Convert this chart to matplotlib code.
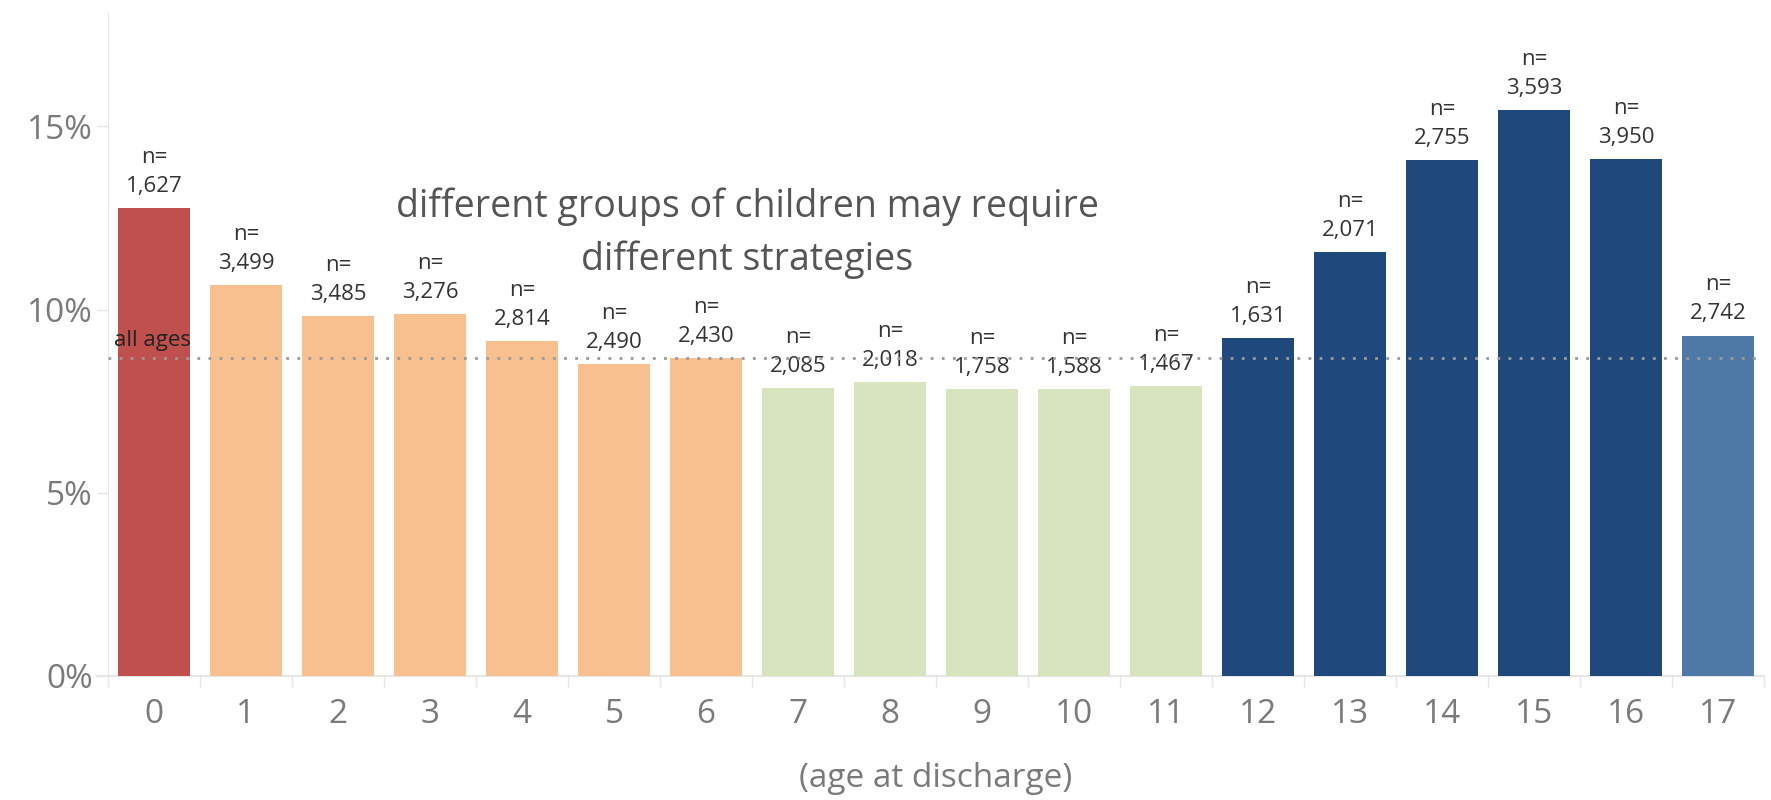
import matplotlib.pyplot as plt

plt.rcParams['font.family'] = ['Open Sans', 'DejaVu Sans']

edades = list(range(18))
porcentajes = [12.77, 10.68, 9.82, 9.88, 9.14, 8.52, 8.68, 7.85, 8.03, 7.82,
               7.82, 7.91, 9.23, 11.57, 14.09, 15.45, 14.12, 9.29]
casos = [1627, 3499, 3485, 3276, 2814, 2490, 2430, 2085, 2018, 1758,
         1588, 1467, 1631, 2071, 2755, 3593, 3950, 2742]
todas_edades = 8.69

colores = (['#bf504d'] + ['#f9c08f'] * 6 + ['#d8e4bd'] * 5
           + ['#1f497d'] * 5 + ['#4e79a6'])

gris_eje = '#e6e6e6'
gris_texto = '#7a7a7a'

fig = plt.figure(figsize=(17.71, 8), dpi=100)
ax = fig.add_axes([0.061, 0.155, 0.935, 0.829])

ax.bar(edades, porcentajes, width=0.78, color=colores, zorder=2)

# etiquetas n= encima de cada barra
for x, y, n in zip(edades, porcentajes, casos):
    ax.annotate(f'n=\n{n:,}', (x, y), xytext=(0, 8), textcoords='offset points',
                ha='center', va='bottom', fontsize=16, linespacing=1.5,
                color='#333333')

ax.axhline(todas_edades, color='#9a9a9a', linestyle=(0, (1, 3)), linewidth=2,
           zorder=3)
ax.text(-0.44, todas_edades + 0.47, 'all ages', fontsize=16, color='#222222',
        ha='left', va='center', zorder=4)

ax.text(6.45, 12.8, 'different groups of children may require',
        ha='center', va='center', fontsize=27, color='#555555')
ax.text(6.45, 11.35, 'different strategies',
        ha='center', va='center', fontsize=27, color='#555555')

ax.set_xlim(-0.5, 17.5)
ax.set_ylim(0, 18.1)
ax.set_yticks([0, 5, 10, 15])
ax.set_yticklabels(['0%', '5%', '10%', '15%'])
ax.set_xticks(edades)
ax.set_xticks([i - 0.5 for i in range(19)], minor=True)

ax.tick_params(axis='y', length=8, width=1, color=gris_eje, labelsize=24,
               labelcolor=gris_texto, pad=3)
ax.tick_params(axis='x', which='major', length=0, labelsize=24,
               labelcolor=gris_texto, pad=16)
ax.tick_params(axis='x', which='minor', length=8, width=1, color=gris_eje)

for lado in ['top', 'right', 'bottom']:
    ax.spines[lado].set_visible(False)
ax.spines['left'].set_color(gris_eje)
ax.plot([-0.62, 17.5], [0, 0], color=gris_eje, linewidth=1.5, clip_on=False,
        zorder=1)

ax.set_xlabel('(age at discharge)', fontsize=24, color=gris_texto, labelpad=22)

fig.savefig('out.png', dpi=100)
